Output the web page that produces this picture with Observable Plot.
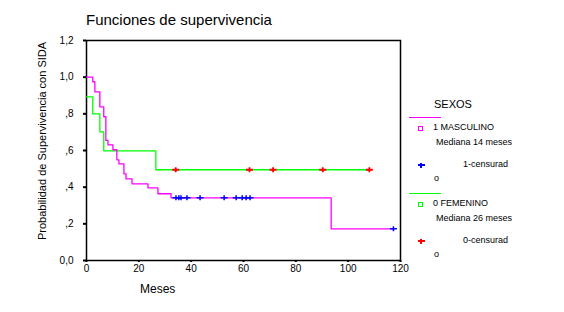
<!DOCTYPE html>
<html><head><meta charset="utf-8">
<script src="https://cdn.jsdelivr.net/npm/d3@7"></script>
<script src="https://cdn.jsdelivr.net/npm/@observablehq/plot@0.6"></script>
<style>
body{margin:0;background:#fff;font-family:"Liberation Sans",Arial,sans-serif;}
#wrap{position:relative;width:564px;height:312px;overflow:hidden;background:#fff}
#wrap svg{position:absolute;left:0;top:0}
.t{position:absolute;white-space:nowrap;color:#000;line-height:1}
.sw{position:absolute}
</style></head><body><div id="wrap"></div>
<script>
// Survival step curves (Kaplan-Meier)
const mascTime = [0, 2.4, 3.2, 5.1, 6.6, 7.4, 8.2, 10.1, 11.6, 12.4, 14.3, 15.1, 17.4, 23.5, 27.3, 32.3, 93.5, 117.3];
const mascSurv = [1.0, 0.975, 0.92, 0.838, 0.784, 0.655, 0.631, 0.604, 0.549, 0.527, 0.473, 0.445, 0.418, 0.396, 0.364, 0.342, 0.173, 0.173];
const femTime = [0, 2.4, 5.1, 6.6, 26.5, 108.1];
const femSurv = [0.893, 0.8, 0.702, 0.598, 0.495, 0.495];
// Censored observations
const mascCensTime = [34.2, 35.3, 36.1, 38.4, 43.4, 52.6, 57.2, 59.5, 61.0, 62.5, 117.3];
const mascCensSurv = [0.342, 0.342, 0.342, 0.342, 0.342, 0.342, 0.342, 0.342, 0.342, 0.342, 0.173];
const femCensTime = [34.1, 62.3, 71.3, 90.3, 108.1];
const femCensSurv = [0.495, 0.495, 0.495, 0.495, 0.495];
// Axes
const xTicks = [0, 20, 40, 60, 80, 100, 120];
const yTicks = [0, 0.2, 0.4, 0.6, 0.8, 1.0, 1.2];
const yTickLabels = ["0,0", ",2", ",4", ",6", ",8", "1,0", "1,2"];
// Texts
const titleText = "Funciones de supervivencia";
const yLabel = "Probabilidad de Supervivencia con SIDA";
const xLabel = "Meses";
const legendTitle = "SEXOS";
const groupNames = ["1 MASCULINO", "0 FEMENINO"];
const medianTexts = ["Mediana 14 meses", "Mediana 26 meses"];
const censorTexts = ["1-censurad", "0-censurad"];

const masc = mascTime.map((t, i) => ({t, s: mascSurv[i]}));
const fem = femTime.map((t, i) => ({t, s: femSurv[i]}));
const mascC = mascCensTime.map((t, i) => ({t, s: mascCensSurv[i]}));
const femC = femCensTime.map((t, i) => ({t, s: femCensSurv[i]}));

const cross = {draw(ctx) { ctx.moveTo(-3.5, 0); ctx.lineTo(3.5, 0); ctx.moveTo(0, -2.5); ctx.lineTo(0, 2.5); }};

const chart = Plot.plot({
  width: 564, height: 312,
  marginLeft: 86, marginRight: 164, marginTop: 40, marginBottom: 52,
  style: {fontFamily: '"Liberation Sans",Arial,sans-serif', fontSize: "10px", background: "#fff", color: "#000", overflow: "visible"},
  x: {domain: [0, 120]},
  y: {domain: [0, 1.2]},
  marks: [
    Plot.frame({stroke: "#000", strokeWidth: 1.5}),
    Plot.axisY({ticks: yTicks, tickSize: 3, tickPadding: 10, strokeWidth: 2, label: null,
      tickFormat: d => yTickLabels[Math.round(d * 5)]}),
    Plot.axisX({ticks: xTicks, tickSize: 2, tickPadding: 2, strokeWidth: 2, label: null}),
    Plot.line(fem, {x: "t", y: "s", curve: "step-after", stroke: "#00ff00", strokeWidth: 1.3}),
    Plot.line(masc, {x: "t", y: "s", curve: "step-after", stroke: "#ff00ff", strokeWidth: 1.3}),
    Plot.dot(mascC, {x: "t", y: "s", symbol: cross, fill: "none", stroke: "#0000ff", strokeWidth: 1.5}),
    Plot.dot(femC, {x: "t", y: "s", symbol: cross, fill: "none", stroke: "#ff0000", strokeWidth: 1.8})
  ]
});
const wrap = document.getElementById("wrap");
wrap.appendChild(chart);

function txt(s, x, baseline, size, extra) {
  const d = document.createElement("div");
  d.className = "t";
  d.textContent = s;
  d.style.fontSize = size + "px";
  d.style.left = x + "px";
  d.style.top = (baseline - 0.8465 * size) + "px";
  if (extra) Object.assign(d.style, extra);
  wrap.appendChild(d);
  return d;
}
function box(x, y, w, h, st) {
  const d = document.createElement("div");
  d.className = "sw";
  Object.assign(d.style, {left: x + "px", top: y + "px", width: w + "px", height: h + "px"}, st);
  wrap.appendChild(d);
}
txt(titleText, 86, 24.5, 15);
txt(xLabel, 140, 293.5, 12);
// rotated y label
const yl = document.createElement("div");
yl.className = "t";
yl.textContent = yLabel;
Object.assign(yl.style, {fontSize: "11px", left: "42px", top: "141px", transform: "translate(-50%,-50%) rotate(-90deg)"});
wrap.appendChild(yl);

// legend
txt(legendTitle, 434, 108, 11);
const groupY = [0, 76];
const symCol = ["#ff00ff", "#00ff00"];
const cenCol = ["#0000ff", "#ff0000"];
groupY.forEach((o, g) => {
  box(409, 117 + o, 32, 1, {background: symCol[g]});
  box(418, 125.5 + o, 3, 3, {border: "1px solid " + symCol[g]});
  txt(groupNames[g], 433, 131 + o, 9);
  txt(medianTexts[g], 436, 145.7 + o, 9);
  box(417.5, 164 + o, 7, 1.5, {background: cenCol[g]});
  box(420.3, 162.5 + o, 1.5, 5, {background: cenCol[g]});
  txt(censorTexts[g], 463, 168 + o, 9);
  txt("o", 434, 182 + o, 9);
});
</script>
</body></html>
